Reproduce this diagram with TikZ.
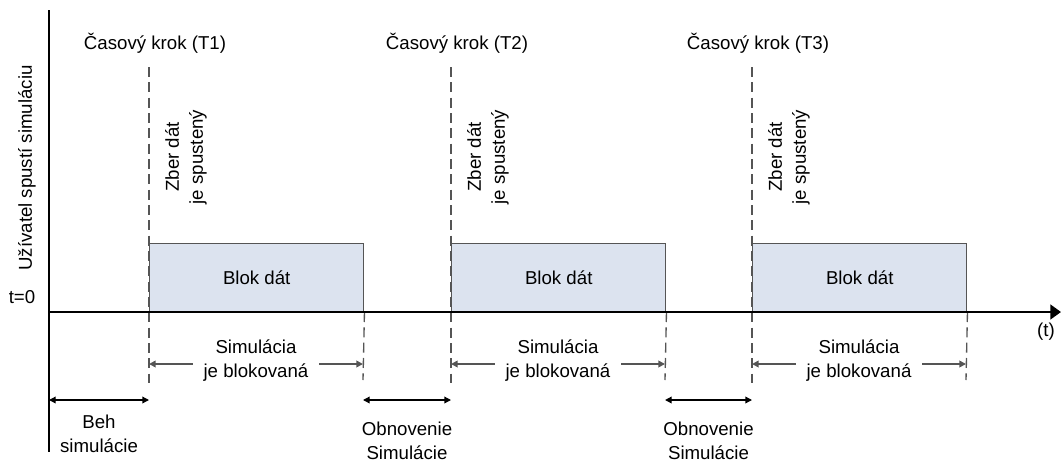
\documentclass[tikz,border=0pt]{standalone}
\usepackage{fontspec}
\setmainfont{Liberation Sans}
\usetikzlibrary{positioning, arrows.meta}
\definecolor{blokfill}{HTML}{DCE3EF}
\definecolor{tmavosiva}{HTML}{555555}

\begin{document}
\begin{tikzpicture}[x=0.75pt, y=-0.75pt, font=\fontsize{14}{18}\selectfont]
	\tikzset{
		os/.style={line width=1.9pt, black},
		blok/.style={draw=tmavosiva, line width=1.1pt, fill=blokfill, minimum width=160.5pt, minimum height=51pt, inner sep=0pt, anchor=south west},
		ciarkovana/.style={tmavosiva, line width=1pt, dash pattern=on 7.5pt off 4pt},
		blokovana/.style={tmavosiva, line width=1.6pt, {Triangle[length=5pt,width=5pt]}-{Triangle[length=5pt,width=5pt]}},
		beh/.style={black, line width=1pt, {Triangle[length=5pt,width=5pt]}-{Triangle[length=5pt,width=5pt]}},
		popis/.style={align=center, inner sep=0pt, text=black}
	}
	\useasboundingbox (0,0) rectangle (1062,464);
	% kroky
	\foreach \i/\s/\e in {1/149/363, 2/451/665, 3/752/966} {
		\node[blok] (b\i) at (\s,312) {Blok dát};
		\coordinate (hore\i) at (\s,67);
		\coordinate (dole\i) at (\s,383);
		\coordinate (kdole\i) at (\e,380);
		\draw[ciarkovana] (hore\i) -- (dole\i);
		\draw[ciarkovana] (b\i.south east) -- (kdole\i);
		\node (ck\i) at (\s+6,43) {Časový krok (T\i)};
		\node[rotate=90, popis] (zber\i) at (\s+37,157) {Zber dát\\je spustený};
		\coordinate (sl\i) at (\s,364);
		\coordinate (sp\i) at (\e,364);
		\draw[blokovana] (sl\i) -- (sp\i) node[midway, fill=white, popis, inner xsep=8pt, yshift=2.6pt] {Simulácia\\je blokovaná};
	}
	% osi
	\coordinate (o) at (49,312);
	\coordinate (otop) at (49,10);
	\coordinate (obot) at (49,452);
	\coordinate (tend) at (1061,312);
	\draw[os] (otop) -- (obot);
	\draw[os, -{Triangle[length=8pt,width=11pt]}] (o) -- (tend);
	\node (t0) at (22,297) {t=0};
	\node (tlab) at (1046,332) {(t)};
	\node[rotate=90] (uziv) at (27,168) {Užívatel spustí simuláciu};
	% beh a obnovenie
	\coordinate (beh0) at (49,400);
	\coordinate (beh1) at (149,400);
	\draw[beh] (beh0) -- (beh1) node[midway, below=11pt, popis] (behtxt) {Beh\\simulácie};
	\foreach \a/\b in {1/2, 2/3} {
		\draw[beh] (kdole\a |- beh0) -- (hore\b |- beh0) node[midway, below=16pt, popis] (obn\a) {Obnovenie\\Simulácie};
	}
\end{tikzpicture}
\end{document}
